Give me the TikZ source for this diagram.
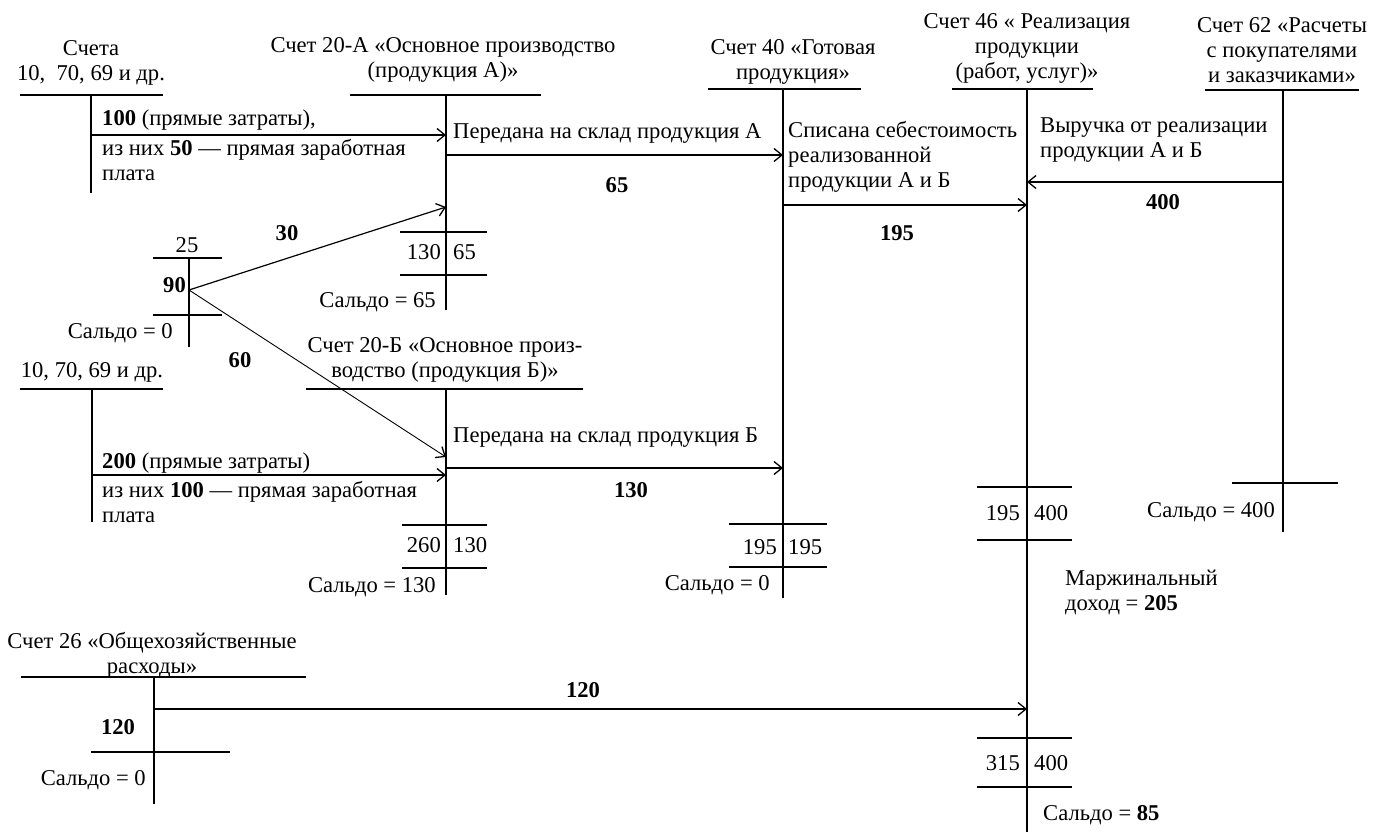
\documentclass[tikz,border=0pt]{standalone}
\usepackage{fontspec}
\setmainfont{Liberation Serif}
\usetikzlibrary{arrows.meta}
\tikzset{
  lbl/.style={inner sep=0pt, font=\fontsize{22.6}{25}\selectfont},
  ctr/.style={lbl, align=center},
  lft/.style={lbl, align=left},
  tline/.style={line width=1.2pt},
  arr/.style={line width=1.2pt, -{Straight Barb[length=8pt,width=13pt,line width=1.3pt]}}
}
\begin{document}
\begin{tikzpicture}[x=1pt,y=-1pt]
\useasboundingbox (0,0) rectangle (1381,837);
\fill[white] (0,0) rectangle (1381,837);

% ---------- Счета 10, 70, 69 (top) ----------
\node[ctr] (tA) at (91,63) {Счета\\10,\ \ 70, 69 и др.};
\draw[tline] (20,95) -- (163,95) (91,95) -- (91,193);
\node[lft, anchor=west] (tA1) at (102,120) {\textbf{100} (прямые затраты),};
\node[lft, anchor=west] (tA2) at (102,160.5) {из них \textbf{50} — прямая заработная\\плата};

% ---------- Счет 20-А ----------
\node[ctr] (t20a) at (443,60) {Счет 20-А «Основное производство\\(продукция А)»};
\draw[tline] (350,95) -- (541,95) (446,95) -- (446,310);
\node[lft, anchor=west] (t20a1) at (453,133) {Передана на склад продукция А};
\draw[tline] (400,232) -- (487,232) (400,275) -- (487,275);
\node[lbl, anchor=east] (t20a2) at (441,252) {130};
\node[lbl, anchor=west] (t20a3) at (453,252) {65};
\node[lbl, anchor=east] (t20a4) at (436,302) {Сальдо = 65};

% ---------- small T (25) ----------
\node[lbl] (t25) at (187,245) {25};
\draw[tline] (153,258) -- (222,258) (189,258) -- (189,347) (153,315) -- (222,315);
\node[lbl, anchor=east] (t90) at (186,285) {\textbf{90}};
\node[lbl, anchor=east] (t25s) at (173,333) {Сальдо = 0};

% ---------- Счета 10, 70, 69 (second) ----------
\node[ctr] (tB) at (92,372) {10, 70, 69 и др.};
\draw[tline] (20,389) -- (163,389) (92,389) -- (92,522);
\node[lft, anchor=west] (tB1) at (102,463) {\textbf{200} (прямые затраты)};
\node[lft, anchor=west] (tB2) at (102,502) {из них \textbf{100} — прямая заработная\\плата};

% ---------- Счет 20-Б ----------
\node[ctr] (t20b) at (445,360) {Счет 20-Б «Основное произ-\\водство (продукция Б)»};
\draw[tline] (306,389) -- (583,389) (446,389) -- (446,595);
\node[lft, anchor=west] (t20b1) at (453,438) {Передана на склад продукция Б};
\draw[tline] (402,525) -- (487,525) (402,568) -- (487,568);
\node[lbl, anchor=east] (t20b2) at (441,545) {260};
\node[lbl, anchor=west] (t20b3) at (453,545) {130};
\node[lbl, anchor=east] (t20b4) at (436,587) {Сальдо = 130};

% ---------- Счет 40 ----------
\node[ctr] (t40) at (793,62) {Счет 40 «Готовая\\продукция»};
\draw[tline] (708,89) -- (861,89) (783,89) -- (783,598);
\node[lft, anchor=west] (t40a) at (788,157) {Списана себестоимость\\реализованной\\продукции А и Б};
\draw[tline] (729,524) -- (827,524) (729,567) -- (827,567);
\node[lbl, anchor=east] (t40b) at (777,547) {195};
\node[lbl, anchor=west] (t40c) at (788,547) {195};
\node[lbl, anchor=east] (t40d) at (770,585) {Сальдо = 0};

% ---------- Счет 46 ----------
\node[ctr] (t46) at (1027,48) {Счет 46 « Реализация\\продукции\\(работ, услуг)»};
\draw[tline] (952,89) -- (1093,89) (1027,89) -- (1027,832);
\node[lft, anchor=west] (t46a) at (1040,140) {Выручка от реализации\\продукции А и Б};
\draw[tline] (977,487) -- (1072,487) (977,540) -- (1072,540);
\node[lbl, anchor=east] (t46b) at (1020,513) {195};
\node[lbl, anchor=west] (t46c) at (1034,513) {400};
\node[lft, anchor=west] (t46d) at (1065,592) {Маржинальный\\доход = \textbf{205}};
\draw[tline] (977,738) -- (1072,738) (977,787) -- (1072,787);
\node[lbl, anchor=east] (t46e) at (1020,763) {315};
\node[lbl, anchor=west] (t46f) at (1034,763) {400};
\node[lbl, anchor=west] (t46g) at (1043,815) {Сальдо = \textbf{85}};

% ---------- Счет 62 ----------
\node[ctr] (t62) at (1282,50) {Счет 62 «Расчеты\\с покупателями\\и заказчиками»};
\draw[tline] (1205,90) -- (1359,90) (1283,90) -- (1283,532);
\draw[tline] (1232,483) -- (1338,483);
\node[lbl, anchor=east] (t62a) at (1275,512) {Сальдо = 400};

% ---------- Счет 26 ----------
\node[ctr] (t26) at (152,655) {Счет 26 «Общехозяйственные\\расходы»};
\draw[tline] (21,677) -- (306,677) (154,677) -- (154,804) (91,752) -- (230,752);
\node[lbl] (t26a) at (118,727) {\textbf{120}};
\node[lbl, anchor=east] (t26b) at (146,780) {Сальдо = 0};

% ---------- connector end points ----------
\coordinate (c100s) at (91,135);   \coordinate (c100e) at (446,135);
\coordinate (c65s)  at (446,155);  \coordinate (c65e)  at (783,155);
\coordinate (c90)   at (189,290);
\coordinate (c30e)  at (446,207);  \coordinate (c60e)  at (446,457);
\coordinate (c200s) at (92,475);   \coordinate (c200e) at (446,475);
\coordinate (c130s) at (446,468);  \coordinate (c130e) at (783,468);
\coordinate (c195s) at (783,205);  \coordinate (c195e) at (1027,205);
\coordinate (c400s) at (1283,182); \coordinate (c400e) at (1027,182);
\coordinate (c120s) at (154,709);  \coordinate (c120e) at (1027,709);

\draw[arr] (c100s) -- (c100e);
\draw[arr] (c65s) -- (c65e);
\draw[arr] (c90) -- (c30e);
\draw[arr, line width=0.9pt] (c90) -- (c60e);
\draw[arr] (c200s) -- (c200e);
\draw[arr] (c130s) -- (c130e);
\draw[arr] (c195s) -- (c195e);
\draw[arr] (c400s) -- (c400e);
\draw[arr] (c120s) -- (c120e);

% ---------- connector labels ----------
\node[lbl] (l65)  at (617,185) {\textbf{65}};
\node[lbl] (l30)  at (287,233) {\textbf{30}};
\node[lbl] (l60)  at (240,360) {\textbf{60}};
\node[lbl] (l130) at (631,490) {\textbf{130}};
\node[lbl] (l195) at (897,233) {\textbf{195}};
\node[lbl] (l400) at (1163,202) {\textbf{400}};
\node[lbl] (l120) at (583,690) {\textbf{120}};
\end{tikzpicture}
\end{document}
